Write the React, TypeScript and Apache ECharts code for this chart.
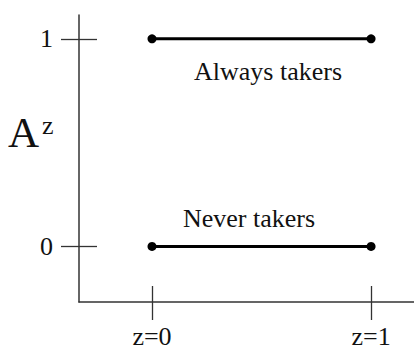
import React, { useEffect, useRef } from "react";
import * as echarts from "echarts";

// Instrument z on the horizontal axis, treatment status A^z on the vertical one
const zValues = [0, 1];
const zTickLabels = ["z=0", "z=1"];
const yTicks = [0, 1];
const alwaysTakers = [1, 1];
const neverTakers = [0, 0];
const groupNames = ["Always takers", "Never takers"];

const SERIF = '"Liberation Serif", "Times New Roman", serif';
const INK = "#111";
const AXIS = "#333";

export default function App() {
  const ref = useRef<HTMLDivElement>(null);

  useEffect(() => {
    if (!ref.current) return;
    const chart = echarts.init(ref.current, undefined, { renderer: "svg" });

    const xRange = { min: -0.3333, max: 1.196 };
    const yRange = { min: -0.268, max: 1.1148 };

    const lineSeries = (name: string, ys: number[]) => ({
      name,
      type: "line",
      xAxisIndex: 0,
      yAxisIndex: 0,
      data: zValues.map((z, i) => [z, ys[i]]),
      symbol: "circle",
      symbolSize: 9,
      itemStyle: { color: "#000" },
      lineStyle: { color: "#000", width: 3 },
      silent: true,
    });

    const tickStyle = { color: AXIS, width: 1.3 };

    chart.setOption({
      animation: false,
      grid: { left: 79, top: 15, right: 0, bottom: 45, containLabel: false },
      xAxis: [
        {
          type: "value",
          ...xRange,
          position: "bottom",
          axisLine: { show: true, onZero: false, lineStyle: { color: AXIS, width: 1.5 } },
          axisTick: { show: true, inside: false, length: 18, customValues: zValues, lineStyle: tickStyle },
          axisLabel: {
            show: true,
            customValues: zValues,
            formatter: (v: number) => zTickLabels[zValues.indexOf(v)] ?? "",
            margin: 21,
            fontFamily: SERIF,
            fontSize: 26,
            color: INK,
          },
          splitLine: { show: false },
        },
        {
          type: "value",
          ...xRange,
          position: "bottom",
          axisLine: { show: false, onZero: false },
          axisTick: { show: true, inside: true, length: 16, customValues: zValues, lineStyle: tickStyle },
          axisLabel: { show: false },
          splitLine: { show: false },
        },
      ],
      yAxis: [
        {
          type: "value",
          ...yRange,
          position: "left",
          axisLine: { show: true, onZero: false, lineStyle: { color: AXIS, width: 1.5 } },
          axisTick: { show: true, inside: false, length: 18, customValues: yTicks, lineStyle: tickStyle },
          axisLabel: {
            show: true,
            customValues: yTicks,
            formatter: (v: number) => String(v),
            margin: 26,
            fontFamily: SERIF,
            fontSize: 26,
            color: INK,
          },
          splitLine: { show: false },
        },
        {
          type: "value",
          ...yRange,
          position: "left",
          axisLine: { show: false, onZero: false },
          axisTick: { show: true, inside: true, length: 18, customValues: yTicks, lineStyle: tickStyle },
          axisLabel: { show: false },
          splitLine: { show: false },
        },
      ],
      series: [
        lineSeries(groupNames[0], alwaysTakers),
        lineSeries(groupNames[1], neverTakers),
      ],
      graphic: [
        {
          type: "text",
          left: 8,
          top: 111,
          style: { text: "A", font: `43px ${SERIF}`, fill: INK },
        },
        {
          type: "text",
          left: 42,
          top: 112,
          style: { text: "z", font: `26px ${SERIF}`, fill: INK },
        },
        {
          type: "text",
          x: 268,
          y: 71,
          style: { text: groupNames[0], font: `26px ${SERIF}`, fill: INK, align: "center", verticalAlign: "middle" },
        },
        {
          type: "text",
          x: 249,
          y: 218,
          style: { text: groupNames[1], font: `26px ${SERIF}`, fill: INK, align: "center", verticalAlign: "middle" },
        },
      ],
    });

    return () => chart.dispose();
  }, []);

  return (
    <div
      ref={ref}
      style={{ position: "absolute", left: 0, top: 0, width: 414, height: 349 }}
    />
  );
}
